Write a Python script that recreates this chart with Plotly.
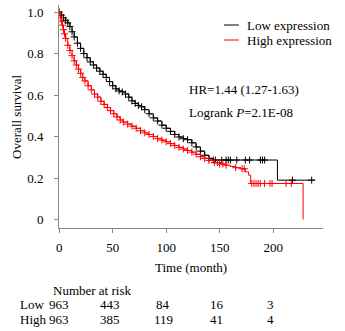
import numpy as np
import plotly.graph_objects as go

# ---- data ----
low_t = [0, 2, 4, 6, 8, 10, 12, 14, 17, 20, 23, 26, 29, 32, 35, 38, 41, 44, 47, 50, 53, 56, 59, 62, 65,
         68, 71, 74, 77, 80, 84, 88, 92, 96, 100, 104, 108, 112, 116, 120, 124, 128, 132, 136, 140, 144,
         204, 239]
low_s = [1.0, 0.985, 0.972, 0.96, 0.948, 0.93, 0.905, 0.88, 0.85, 0.825, 0.80, 0.78, 0.76, 0.745, 0.73,
         0.715, 0.70, 0.685, 0.665, 0.645, 0.63, 0.62, 0.615, 0.605, 0.59, 0.572, 0.56, 0.55, 0.543, 0.53,
         0.51, 0.49, 0.475, 0.455, 0.44, 0.425, 0.41, 0.398, 0.39, 0.385, 0.37, 0.35, 0.33, 0.31, 0.295,
         0.287, 0.19, 0.19]
low_cens_tail = [146, 152, 156, 158, 160, 166, 174, 178, 188, 190, 192, 218, 236]

high_t = [0, 1, 2, 3, 4, 5, 6, 8, 10, 12, 14, 16, 18, 20, 22, 24, 27, 30, 33, 36, 39, 42, 45, 48, 51, 54,
          57, 60, 64, 68, 72, 76, 80, 84, 88, 92, 96, 100, 104, 108, 112, 116, 120, 124, 128, 132, 136,
          140, 145, 150, 155, 160, 165, 170, 174, 177, 179, 228]
high_s = [1.0, 0.975, 0.955, 0.937, 0.915, 0.895, 0.873, 0.84, 0.815, 0.79, 0.765, 0.745, 0.725, 0.705,
          0.685, 0.668, 0.645, 0.625, 0.605, 0.59, 0.57, 0.555, 0.54, 0.525, 0.51, 0.495, 0.48, 0.47, 0.46,
          0.45, 0.44, 0.428, 0.418, 0.41, 0.40, 0.39, 0.383, 0.375, 0.366, 0.357, 0.348, 0.34, 0.333, 0.325,
          0.315, 0.303, 0.295, 0.285, 0.275, 0.268, 0.262, 0.256, 0.25, 0.245, 0.23, 0.214, 0.174, 0.0]
high_cens_tail = [148, 150, 153, 156, 165, 171, 173, 180, 182, 184, 186, 188, 192, 197, 199, 212, 217]

risk_times = [0, 50, 100, 150, 200]
risk_low = [963, 443, 84, 16, 3]
risk_high = [963, 385, 119, 41, 4]

x_ticks = [0, 50, 100, 150, 200]
y_ticks = [0, 0.2, 0.4, 0.6, 0.8, 1.0]
y_ticktext = ["0", "0.2", "0.4", "0.6", "0.8", "1.0"]

W, H = 345, 331
FONT = "Liberation Serif, Times New Roman, serif"


def px(x):
    return x / W


def py(y):
    return 1 - y / H


def step_value(t, s, c):
    t = np.asarray(t, float)
    s = np.asarray(s, float)
    idx = np.searchsorted(t, np.asarray(c, float), side="right") - 1
    return s[np.clip(idx, 0, len(s) - 1)]


def censor_times(t, tail, limit):
    return [v for v in t if v <= limit] + list(tail)


fig = go.Figure()
for t, s, tail, limit, col in [(low_t, low_s, low_cens_tail, 144, "black"),
                               (high_t, high_s, high_cens_tail, 145, "red")]:
    fig.add_trace(go.Scatter(x=t, y=s, mode="lines", line=dict(color=col, width=1, shape="hv"),
                             showlegend=False, hoverinfo="skip"))
    ct = censor_times(t, tail, limit)
    fig.add_trace(go.Scatter(x=ct, y=step_value(t, s, ct), mode="markers",
                             marker=dict(symbol="cross-thin", size=5, line=dict(color=col, width=1)),
                             showlegend=False, hoverinfo="skip"))

annotations = []
# legend
for yy, label in [(25, "Low expression"), (40, "High expression")]:
    annotations.append(dict(x=px(244), y=py(yy), xref="paper", yref="paper", text=label,
                            showarrow=False, xanchor="left", yanchor="middle",
                            font=dict(size=13, color="black", family=FONT)))
annotations.append(dict(x=px(186), y=py(90), xref="paper", yref="paper", text="HR=1.44 (1.27-1.63)",
                        showarrow=False, xanchor="left", yanchor="middle",
                        font=dict(size=13, color="black", family=FONT)))
annotations.append(dict(x=px(186), y=py(112), xref="paper", yref="paper",
                        text="Logrank <i>P</i>=2.1E-08",
                        showarrow=False, xanchor="left", yanchor="middle",
                        font=dict(size=13, color="black", family=FONT)))
annotations.append(dict(x=px(14), y=py(116), xref="paper", yref="paper", text="Overall survival",
                        showarrow=False, textangle=-90, xanchor="center", yanchor="middle",
                        font=dict(size=13, color="black", family=FONT)))
annotations.append(dict(x=px(190), y=py(267), xref="paper", yref="paper", text="Time (month)",
                        showarrow=False, xanchor="center", yanchor="middle",
                        font=dict(size=13, color="black", family=FONT)))
annotations.append(dict(x=px(48), y=py(290), xref="paper", yref="paper", text="Number at risk",
                        showarrow=False, xanchor="left", yanchor="middle",
                        font=dict(size=13, color="black", family=FONT)))
for yy, label, vals in [(304, "Low", risk_low), (319, "High", risk_high)]:
    annotations.append(dict(x=px(15), y=py(yy), xref="paper", yref="paper", text=label,
                            showarrow=False, xanchor="left", yanchor="middle",
                            font=dict(size=13, color="black", family=FONT)))
    for tt, v in zip(risk_times, vals):
        annotations.append(dict(x=tt, y=py(yy), xref="x", yref="paper", text=str(v),
                                showarrow=False, xanchor="center", yanchor="middle",
                                xshift=0 if tt == 0 else -3,
                                font=dict(size=13, color="black", family=FONT)))

shapes = [
    dict(type="line", xref="paper", yref="paper", x0=px(223), x1=px(238), y0=py(25), y1=py(25),
         line=dict(color="black", width=1)),
    dict(type="line", xref="paper", yref="paper", x0=px(223), x1=px(238), y0=py(40), y1=py(40),
         line=dict(color="red", width=1)),
]

fig.update_layout(
    width=W, height=H, autosize=False,
    margin=dict(l=0, r=0, t=0, b=0),
    paper_bgcolor="white", plot_bgcolor="white",
    font=dict(family=FONT, size=13, color="black"),
    annotations=annotations, shapes=shapes,
    xaxis=dict(domain=[px(56.7), px(322.7)], range=[0, 246.5], tickvals=x_ticks,
               showgrid=False, zeroline=False, showline=True, linecolor="#888", linewidth=1,
               ticks="outside", ticklen=4, tickcolor="#888", ticklabelstandoff=3,
               tickfont=dict(size=13, color="black", family=FONT), anchor="y"),
    yaxis=dict(domain=[py(228.3), py(5)], range=[-0.042, 1.034], tickvals=y_ticks, ticktext=y_ticktext,
               showgrid=False, zeroline=False, showline=True, linecolor="#888", linewidth=1,
               ticks="outside", ticklen=4, tickcolor="#888", ticklabelstandoff=8,
               tickfont=dict(size=13, color="black", family=FONT), anchor="x"),
)

fig.write_html("out.html")
